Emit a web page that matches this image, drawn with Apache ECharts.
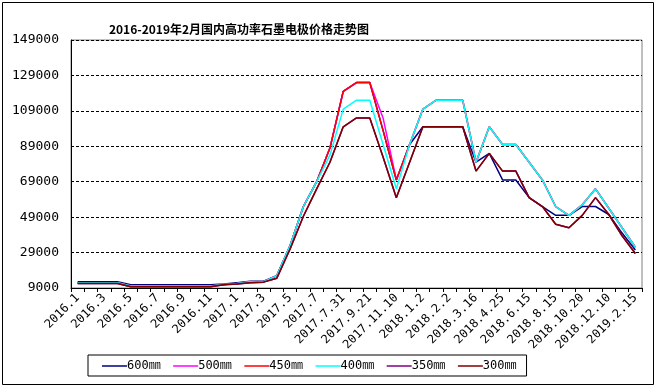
<!DOCTYPE html>
<html>
<head>
<meta charset="utf-8">
<script src="https://cdn.jsdelivr.net/npm/echarts@6/dist/echarts.min.js"></script>
<style>
html,body{margin:0;padding:0;background:#fff;}
#chart{width:661px;height:390px;}
</style>
</head>
<body>
<div id="chart"></div>
<script>
const titleText = '2016-2019年2月国内高功率石墨电极价格走势图';
const categories = ['2016.1','2016.2','2016.3','2016.4','2016.5','2016.6','2016.7','2016.8','2016.9','2016.10','2016.11','2016.12',
  '2017.1','2017.2','2017.3','2017.4','2017.5','2017.6','2017.7','2017.7.15','2017.7.31','2017.8.31','2017.9.21','2017.10.20',
  '2017.11.10','2017.12.5','2018.1.2','2018.1.15','2018.2.2','2018.3.1','2018.3.16','2018.4.2','2018.4.25','2018.5.20',
  '2018.6.15','2018.7.15','2018.8.15','2018.9.20','2018.10.20','2018.11.15','2018.12.10','2019.1.15','2019.2.15'];
const seriesNames = ['600㎜','500㎜','450㎜','400㎜','350㎜','300㎜'];
const s600 = [12500,12500,12500,12500,10800,10800,10800,10800,10800,10800,10800,11200,12000,12800,12800,16000,33000,55000,69000,88000,120000,125000,125000,98000,70000,90000,100000,100000,100000,100000,80000,85000,70000,70000,60000,55000,50000,50000,55000,55000,50500,40000,30500];
const s500 = [12000,12000,12000,12000,10100,10100,10100,10100,10100,10100,10100,11000,11500,12500,12500,16000,33000,55000,69000,88000,120000,125000,125000,105000,70000,90000,110000,115000,115000,115000,80000,100000,90000,90000,80000,70000,55000,50000,56000,65000,54000,43000,32000];
const s450 = [12000,12000,12000,12000,10100,10100,10100,10100,10100,10100,10100,11000,11500,12500,12500,16000,33000,55000,69000,88000,120000,125000,125000,98000,70000,90000,110000,115000,115000,115000,80000,100000,90000,90000,80000,70000,55000,50000,56000,65000,54000,43000,32000];
const s400 = [12000,12000,12000,12000,10100,10100,10100,10100,10100,10100,10100,11000,11500,12500,12500,16000,33000,55000,69000,84000,110000,115000,115000,90000,65000,90000,110000,115000,115000,115000,80000,100000,90000,90000,80000,70000,55000,50000,56000,65000,54000,43000,32000];
const s350 = [11500,11500,11500,11500,9700,9700,9700,9700,9700,9700,9700,10800,11300,12000,12300,14500,31000,49500,65000,80000,100000,105000,105000,83000,60000,80000,100000,100000,100000,100000,75000,85000,75000,75000,60000,55000,45000,43000,50000,60000,50500,38500,28500];
const s300 = [11500,11500,11500,11500,9700,9700,9700,9700,9700,9700,9700,10800,11300,12000,12300,14500,31000,49500,65000,80000,100000,105000,105000,83000,60000,80000,100000,100000,100000,100000,75000,85000,75000,75000,60000,55000,45000,43000,50000,60000,50500,38500,28500];
const yMin = 9000, yMax = 149000, yStep = 20000;

const colors = ['#000080','#FF00FF','#FF0000','#00FFFF','#800080','#800000'];
const allData = [s600,s500,s450,s400,s350,s300];

const chart = echarts.init(document.getElementById('chart'), null, {renderer:'canvas'});
const monoFont = '"DejaVu Sans Mono","Liberation Mono","Noto Sans CJK SC",monospace';
chart.setOption({
  animation:false,
  backgroundColor:'#fff',
  title:{
    text:titleText, left:234, top:18, textAlign:'center',
    textStyle:{fontFamily:'"Noto Sans CJK SC"', fontSize:12, fontWeight:'bold', color:'#000'}
  },
  graphic:[{type:'rect', shape:{x:2.5,y:2.5,width:651,height:382}, style:{fill:'none', stroke:'#000', lineWidth:1}, silent:true}],
  legend:{
    left:88, top:355, orient:'horizontal',
    data:seriesNames,
    icon:'rect',
    borderColor:'#000', borderWidth:1, padding:[5,10,4,14],
    itemWidth:25, itemHeight:1.5, itemGap:12.5,
    textStyle:{fontFamily:monoFont, fontSize:12, color:'#000', padding:[0,0,0,-5]}
  },
  grid:{left:71, right:19, top:40, bottom:102, show:true, borderColor:'#808080', borderWidth:1, backgroundColor:'#fff'},
  xAxis:{
    type:'category', data:categories, boundaryGap:true,
    axisLine:{lineStyle:{color:'#000', width:1}},
    axisTick:{show:true, interval:0, length:4, lineStyle:{color:'#000'}},
    axisLabel:{interval:1, rotate:45, fontFamily:monoFont, fontSize:12, color:'#000', margin:8},
    splitLine:{show:false}
  },
  yAxis:{
    type:'value', min:yMin, max:yMax, interval:yStep,
    axisLine:{show:true, lineStyle:{color:'#000', width:1}},
    axisTick:{show:false},
    axisLabel:{fontFamily:monoFont, fontSize:13, color:'#000', margin:12, formatter:v=>String(v)},
    splitLine:{show:true, lineStyle:{color:'#000', type:[3,2], width:1}}
  },
  series: seriesNames.map((n,i)=>({
    name:n, type:'line', data:allData[i], symbol:'none', showSymbol:false,
    lineStyle:{color:colors[i], width:1.5}, itemStyle:{color:colors[i]}
  }))
});
</script>
</body>
</html>
